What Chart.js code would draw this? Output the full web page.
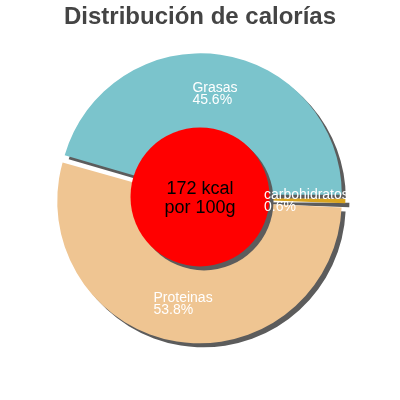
<!DOCTYPE html>
<html>
<head>
<meta charset="utf-8">
<script src="https://cdn.jsdelivr.net/npm/chart.js@4"></script>
<style>
  html, body { margin: 0; padding: 0; background: #fff; }
  #wrap { width: 400px; height: 400px; }
</style>
</head>
<body>
<div id="wrap"><canvas id="chart"></canvas></div>
<script>
// datos del gráfico
var categorias = ['Grasas', 'carbohidratos', 'Proteinas'];
var porcentajes = [45.6, 0.6, 53.8];
var colores = ['#7bc4cc', '#d9a520', '#efc592'];
var textoCentro = ['172 kcal', 'por 100g'];

function ponerSombra(ctx) {
    ctx.shadowColor = '#5c5c5c';
    ctx.shadowOffsetX = 4;
    ctx.shadowOffsetY = 4;
    ctx.shadowBlur = 0;
}

// sombra gris debajo de cada sector
var sombra = {
    id: 'sombra',
    beforeDatasetDraw: function (chart) {
        chart.ctx.save();
        ponerSombra(chart.ctx);
    },
    afterDatasetDraw: function (chart) {
        chart.ctx.restore();
    }
};

// círculo rojo central, etiquetas blancas y texto del centro
var etiquetas = {
    id: 'etiquetas',
    afterDatasetsDraw: function (chart) {
        var ctx = chart.ctx;
        var meta = chart.getDatasetMeta(0);
        var a0 = meta.data[0];
        var cx = a0.x, cy = a0.y;

        ctx.save();
        ponerSombra(ctx);
        ctx.fillStyle = '#ff0000';
        ctx.beginPath();
        ctx.arc(cx, cy - 1, a0.outerRadius * 0.5, 0, Math.PI * 2);
        ctx.fill();
        ctx.restore();

        ctx.save();
        ctx.font = '14px "Liberation Sans", Arial, sans-serif';
        ctx.fillStyle = '#fff';
        ctx.textBaseline = 'alphabetic';
        ctx.textAlign = 'left';
        meta.data.forEach(function (arc, i) {
            var mid = (arc.startAngle + arc.endAngle) / 2;
            var r = (arc.outerRadius + arc.options.offset) * 0.7;
            var px = cx + Math.cos(mid) * r;
            var py = cy + Math.sin(mid) * r;
            var l1 = categorias[i];
            var l2 = porcentajes[i].toFixed(1) + '%';
            var w = Math.max(ctx.measureText(l1).width, ctx.measureText(l2).width);
            var x = px - w / 2;
            ctx.fillText(l1, x, py - 1);
            ctx.fillText(l2, x, py + 11);
        });
        ctx.fillStyle = '#000';
        ctx.textAlign = 'center';
        ctx.font = '18px "Liberation Sans", Arial, sans-serif';
        ctx.fillText(textoCentro[0], cx, cy - 4);
        ctx.fillText(textoCentro[1], cx, cy + 15);
        ctx.restore();
    }
};

var ctx = document.getElementById('chart').getContext('2d');

var grafico = new Chart(ctx, {
    type: 'pie',
    data: {
        labels: categorias,
        datasets: [{
            data: porcentajes,
            backgroundColor: colores,
            borderWidth: 0,
            offset: 13
        }]
    },
    options: {
        responsive: true,
        maintainAspectRatio: false,
        animation: false,
        radius: 139,
        rotation: -74,
        layout: {
            padding: { bottom: 41 }
        },
        plugins: {
            legend: { display: false },
            tooltip: { enabled: false },
            title: {
                display: true,
                text: 'Distribución de calorías',
                color: '#444',
                font: { family: '"Liberation Sans", Arial, sans-serif', size: 24, weight: 'bold' },
                padding: { top: 3, bottom: 5 }
            }
        }
    },
    plugins: [sombra, etiquetas]
});
</script>
</body>
</html>
